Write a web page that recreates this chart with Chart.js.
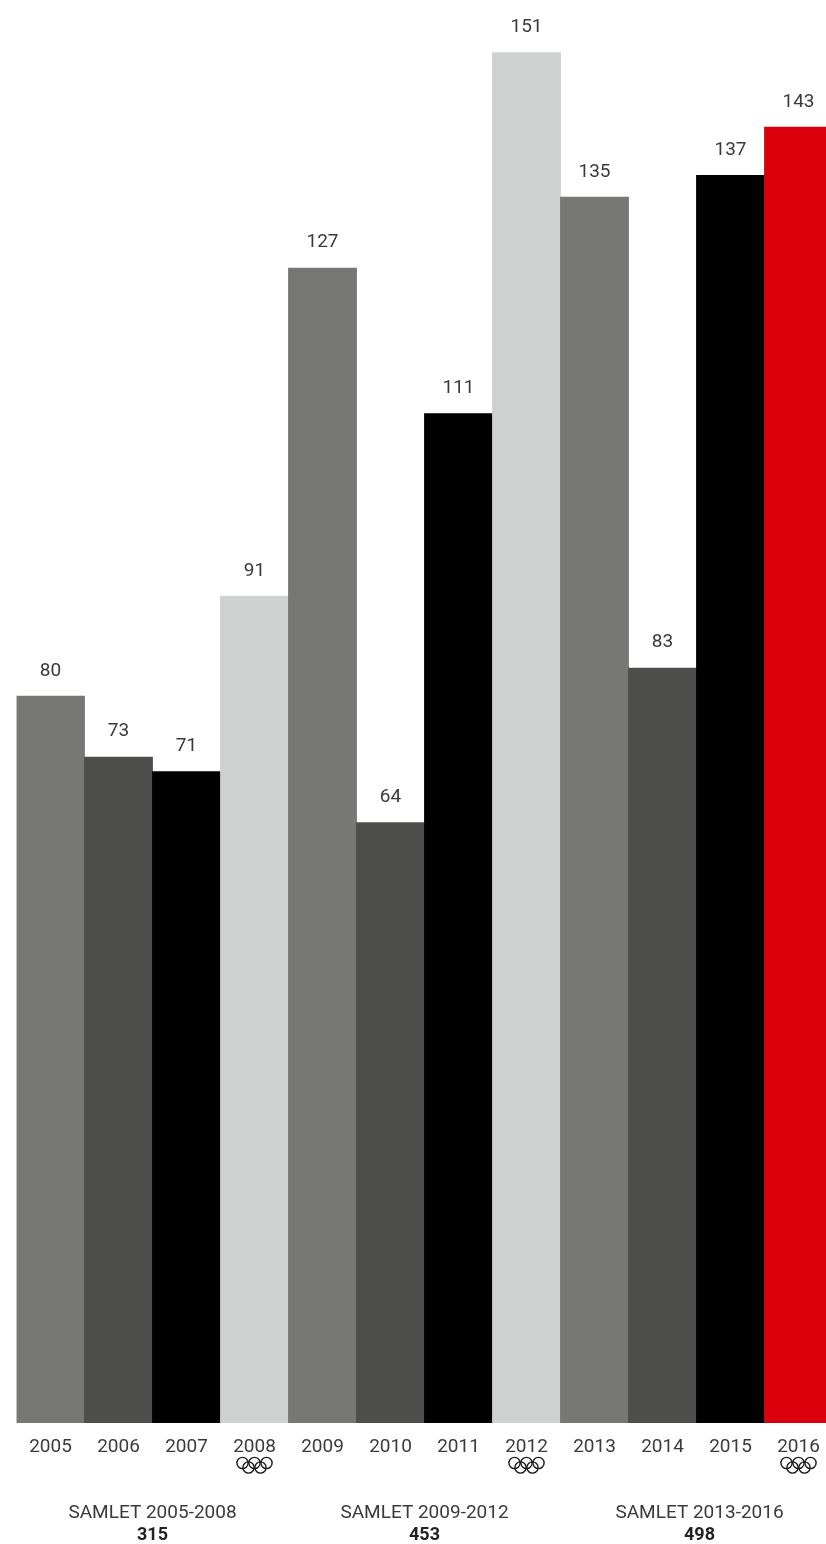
<!DOCTYPE html>
<html>
<head>
<meta charset="utf-8">
<script src="https://cdn.jsdelivr.net/npm/chart.js@4"></script>
<style>
  html, body { margin: 0; padding: 0; background: #fff; overflow: hidden; }
  #wrap { width: 826px; height: 1544px; overflow: hidden; }
  canvas { display: block; }
</style>
</head>
<body>
<div id="wrap"><canvas id="barChart" width="833" height="1544" style="width:833px;height:1544px"></canvas></div>
<script>
const years = ['2005', '2006', '2007', '2008', '2009', '2010', '2011', '2012', '2013', '2014', '2015', '2016'];
// printed numbers above the bars
const printedValues = [80, 73, 71, 91, 127, 64, 111, 151, 135, 83, 137, 143];
// bar heights, a few differ a bit from the printed number (2010 most of all)
const barHeights = [80, 73.3, 71.7, 91, 127.1, 66.1, 111.1, 150.8, 134.9, 83.1, 137.3, 142.6];
const barColors = ['#777775', '#4e4e4c', '#000000', '#cfd1d0', '#777775', '#4e4e4c', '#000000', '#cfd1d0', '#777775', '#4e4e4c', '#000000', '#d9000c'];
const olympicYears = ['2008', '2012', '2016'];
const groupLabels = ['SAMLET 2005-2008', 'SAMLET 2009-2012', 'SAMLET 2013-2016'];
const groupTotals = ['315', '453', '498'];
const groupYears = [['2005', '2008'], ['2009', '2012'], ['2013', '2016']];

const fontName = "Roboto, sans-serif";
const textColor = '#3a3a3a';

const valueLabels = {
    id: 'valueLabels',
    afterDatasetsDraw(chart) {
        const ctx = chart.ctx;
        ctx.save();
        ctx.font = '400 19px ' + fontName;
        ctx.fillStyle = textColor;
        ctx.textAlign = 'center';
        ctx.textBaseline = 'middle';
        chart.getDatasetMeta(0).data.forEach((bar, i) => {
            ctx.fillText(printedValues[i], bar.x, bar.y - 25);
        });
        ctx.restore();
    }
};

const olympicRings = {
    id: 'olympicRings',
    afterDraw(chart) {
        const ctx = chart.ctx;
        const xScale = chart.scales.x;
        ctx.save();
        ctx.strokeStyle = '#1a1a1a';
        ctx.lineWidth = 1.4;
        olympicYears.forEach(year => {
            const cx = xScale.getPixelForValue(years.indexOf(year));
            [[-12, 1463], [0, 1463], [12, 1463], [-6, 1467.5], [6, 1467.5]].forEach(ring => {
                ctx.beginPath();
                ctx.arc(cx + ring[0], ring[1], 5.6, 0, Math.PI * 2);
                ctx.stroke();
            });
        });
        ctx.restore();
    }
};

const groupSummary = {
    id: 'groupSummary',
    afterDraw(chart) {
        const ctx = chart.ctx;
        const xScale = chart.scales.x;
        const nudge = [0, 0, 3];
        ctx.save();
        ctx.textAlign = 'center';
        ctx.textBaseline = 'middle';
        groupLabels.forEach((label, i) => {
            const from = xScale.getPixelForValue(years.indexOf(groupYears[i][0]));
            const to = xScale.getPixelForValue(years.indexOf(groupYears[i][1]));
            const cx = (from + to) / 2 + nudge[i];
            ctx.font = '400 19px ' + fontName;
            ctx.fillStyle = textColor;
            ctx.fillText(label, cx, 1513);
            ctx.font = '700 18px ' + fontName;
            ctx.fillStyle = '#222222';
            ctx.fillText(groupTotals[i], cx, 1535);
        });
        ctx.restore();
    }
};

new Chart(document.getElementById('barChart').getContext('2d'), {
    type: 'bar',
    data: {
        labels: years,
        datasets: [{
            data: barHeights,
            backgroundColor: barColors,
            borderWidth: 0,
            barPercentage: 1.012,
            categoryPercentage: 1
        }]
    },
    options: {
        responsive: false,
        animation: false,
        devicePixelRatio: 1,
        layout: { padding: { left: 16.5, right: 0.5, top: 0, bottom: 0 } },
        plugins: { legend: { display: false }, tooltip: { enabled: false } },
        scales: {
            x: {
                grid: { display: false },
                border: { display: false },
                afterFit(scale) { scale.height = 121; },
                ticks: {
                    padding: 5,
                    maxRotation: 0,
                    autoSkip: false,
                    color: textColor,
                    font: { family: fontName, size: 19, weight: '400' }
                }
            },
            y: {
                display: false,
                min: 0,
                max: 156.55
            }
        }
    },
    plugins: [valueLabels, olympicRings, groupSummary]
});
</script>
</body>
</html>
